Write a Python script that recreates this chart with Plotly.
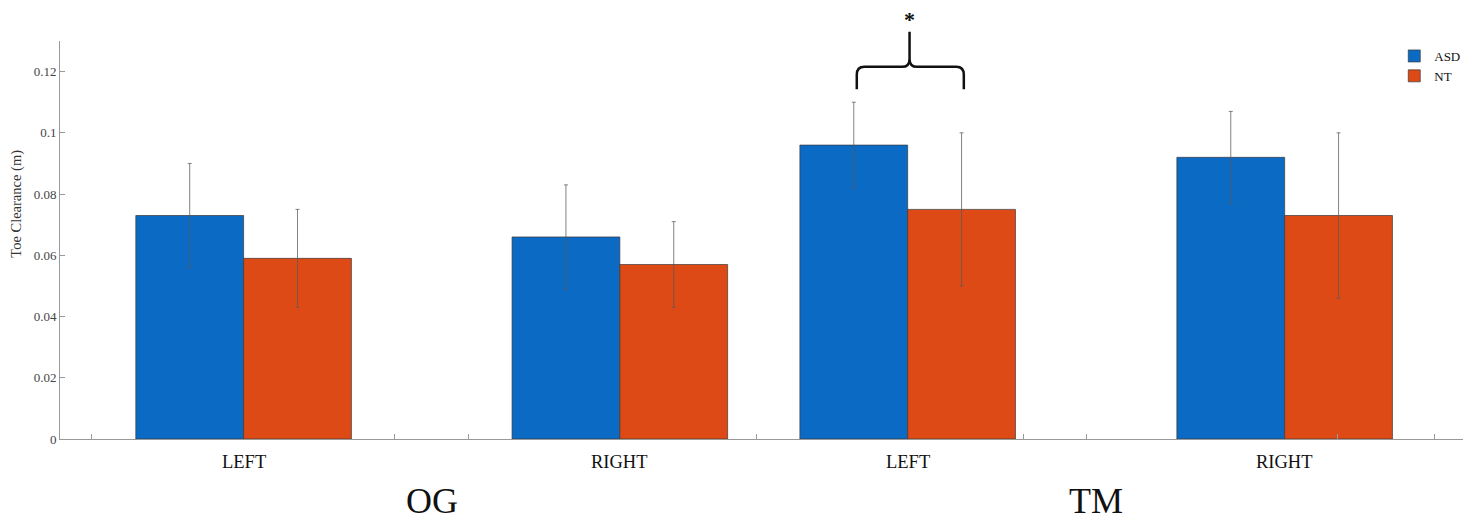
import plotly.graph_objects as go

# ---- data ----
tick_labels = ["LEFT", "RIGHT", "LEFT", "RIGHT"]
group_pos = [1.0, 2.0, 2.765, 3.767]
conditions = ["OG", "TM"]
asd_mean = [0.073, 0.066, 0.096, 0.092]
asd_sd = [0.017, 0.017, 0.014, 0.015]
nt_mean = [0.059, 0.057, 0.075, 0.073]
nt_sd = [0.016, 0.014, 0.025, 0.027]
minor_ticks = [0.597, 1.401, 1.599, 2.363, 3.072, 3.239, 3.907, 4.164]

BAR_W = 0.2865
SERIF = "Liberation Serif, Times New Roman, serif"
BLUE = "#0A6AC4"
ORANGE = "#DE4A15"

fig = go.Figure()
for name, vals, sd, col, off in [
    ("ASD", asd_mean, asd_sd, BLUE, -BAR_W),
    ("NT", nt_mean, nt_sd, ORANGE, 0.0),
]:
    fig.add_trace(go.Bar(
        x=group_pos, y=vals, name=name, width=BAR_W, offset=off,
        marker=dict(color=col, line=dict(color="#3a3a3a", width=0.7)),
        error_y=dict(type="data", array=sd, visible=True,
                     color="rgba(90,90,90,0.75)", thickness=1, width=2),
    ))

# x labels for groups
for gp, lab in zip(group_pos, tick_labels):
    fig.add_annotation(x=gp, y=-0.088, xref="x", yref="paper", yanchor="bottom",
                       text=lab, showarrow=False,
                       font=dict(family=SERIF, size=18.5, color="#111"))
# condition labels centered between their two groups
for i, cond in enumerate(conditions):
    cx = (group_pos[2 * i] + group_pos[2 * i + 1]) / 2
    fig.add_annotation(x=cx, y=-0.156, xref="x", yref="paper", yanchor="middle",
                       text=cond, showarrow=False,
                       font=dict(family=SERIF, size=36, color="#111"))

# significance brace over TM LEFT
gp = group_pos[2]
L = gp - BAR_W / 2 + 0.008
R = gp + BAR_W / 2 + 0.006
C = gp + 0.005
yb, yh, yt = 0.879, 0.935, 1.023
rx, ry = 0.02, 0.02
path = (f"M {L},{yb} L {L},{yh - ry} Q {L},{yh} {L + rx},{yh} "
        f"L {C - rx},{yh} Q {C},{yh} {C},{yh + ry} L {C},{yt} "
        f"M {C},{yh + ry} Q {C},{yh} {C + rx},{yh} "
        f"L {R - rx},{yh} Q {R},{yh} {R},{yh - ry} L {R},{yb}")
fig.add_shape(type="path", path=path, xref="x", yref="paper",
              line=dict(color="#111", width=2.5))
fig.add_annotation(x=C, y=1.09, xref="x", yref="paper", text="<b>*</b>",
                   showarrow=False, font=dict(family=SERIF, size=22, color="#111"))

# y-axis title
fig.add_annotation(x=-0.031, y=0.59, xref="paper", yref="paper", xanchor="center",
                   yanchor="middle", text="Toe Clearance (m)", textangle=-90,
                   showarrow=False, font=dict(family=SERIF, size=14.5, color="#333"))

fig.update_layout(
    width=1469, height=515,
    margin=dict(l=52, r=11, t=33, b=84),
    paper_bgcolor="white", plot_bgcolor="white",
    barmode="overlay",
    showlegend=True,
    legend=dict(x=0.951, y=1.0, xanchor="left", yanchor="top",
                font=dict(family=SERIF, size=13, color="#111"),
                bgcolor="rgba(0,0,0,0)", tracegroupgap=0, itemwidth=30),
    xaxis=dict(range=[0.512, 4.241], tickvals=minor_ticks,
               ticktext=[""] * len(minor_ticks), ticks="inside", ticklen=5,
               tickcolor="#999", showline=True, linecolor="#999", linewidth=1,
               showgrid=False, zeroline=False),
    yaxis=dict(range=[0, 0.13], tickvals=[0, 0.02, 0.04, 0.06, 0.08, 0.1, 0.12],
               ticktext=["0", "0.02", "0.04", "0.06", "0.08", "0.1", "0.12"],
               ticks="inside", ticklen=5, tickcolor="#999", showline=True,
               linecolor="#999", linewidth=1, showgrid=False, zeroline=False,
               tickfont=dict(family=SERIF, size=13, color="#444")),
)

fig.write_html("out.html")
